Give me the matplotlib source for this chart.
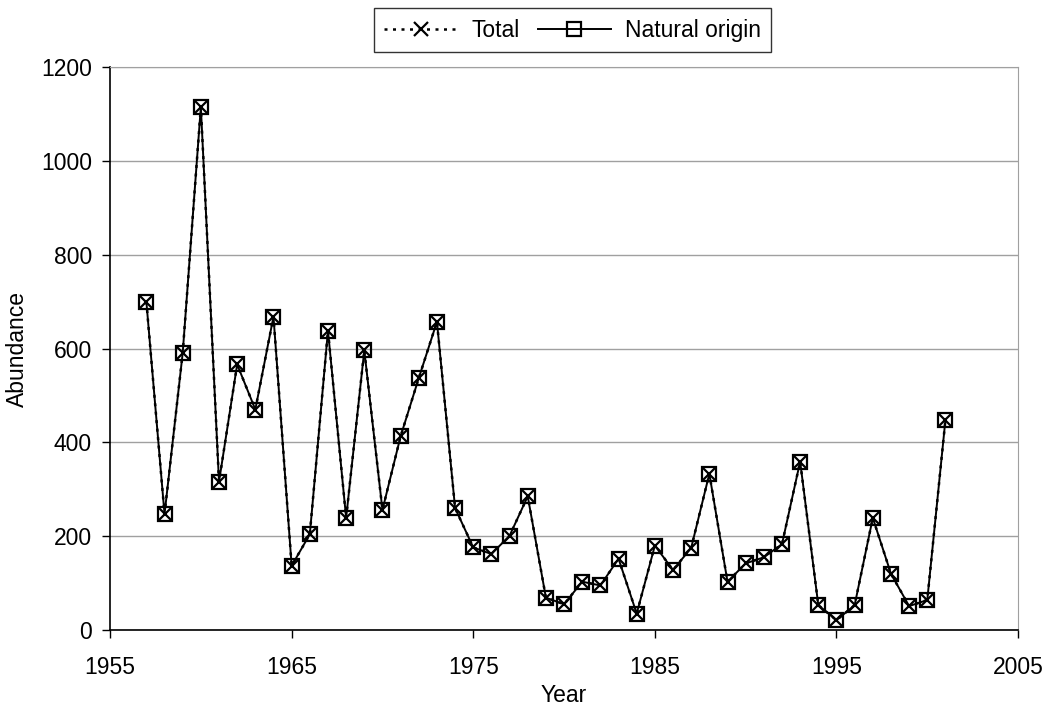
import numpy as np
import matplotlib.pyplot as plt

plt.rcParams['font.family'] = ['Liberation Sans', 'DejaVu Sans']

years = list(range(1957, 2002))
natural = [700, 247, 590, 1115, 316, 566, 470, 668, 137, 204,
           638, 239, 596, 256, 413, 537, 657, 260, 176, 162,
           201, 285, 69, 55, 103, 95, 152, 35, 180, 128,
           175, 333, 103, 142, 155, 183, 359, 53, 21, 53,
           239, 120, 51, 64, 448]
total = list(natural)

fig = plt.figure(figsize=(10.5, 7.06), dpi=100)
ax = fig.add_axes([0.1048, 0.1076, 0.8648, 0.7975])

ax.plot(years, total, linestyle=(0, (1.2, 2.2)), color='black', linewidth=1.8,
        marker='x', markersize=10.5, markeredgewidth=1.6, label='Total')
ax.plot(years, natural, linestyle='-', color='black', linewidth=1.4,
        marker='s', markersize=10.5, markerfacecolor='none', markeredgewidth=1.6,
        label='Natural origin')

ax.set_xlim(1955, 2005)
ax.set_ylim(0, 1200)
ax.set_xticks(np.arange(1955, 2006, 10))
ax.set_yticks(np.arange(0, 1201, 200))
ax.yaxis.grid(True, color='#a0a0a0', linewidth=1)
ax.set_axisbelow(True)

for s in ['top', 'right']:
    ax.spines[s].set_color('#a0a0a0')
for s in ['left', 'bottom']:
    ax.spines[s].set_color('black')
    ax.spines[s].set_linewidth(1.2)

ax.tick_params(axis='both', labelsize=16.5, direction='out', length=6, width=1)
ax.tick_params(axis='y', pad=7)
ax.tick_params(axis='x', pad=13)
ax.set_xlabel('Year', fontsize=16.5, labelpad=3)
ax.set_ylabel('Abundance', fontsize=16.5, labelpad=9)

leg = fig.legend(loc='upper center', bbox_to_anchor=(0.5452, 0.988), ncol=2,
                 fontsize=16.5, frameon=True, fancybox=False, handlelength=3.2,
                 columnspacing=0.8, handletextpad=0.6, borderpad=0.45,
                 borderaxespad=0)
leg.get_frame().set_edgecolor('black')
leg.get_frame().set_linewidth(1)

fig.savefig('out.png', dpi=100)
